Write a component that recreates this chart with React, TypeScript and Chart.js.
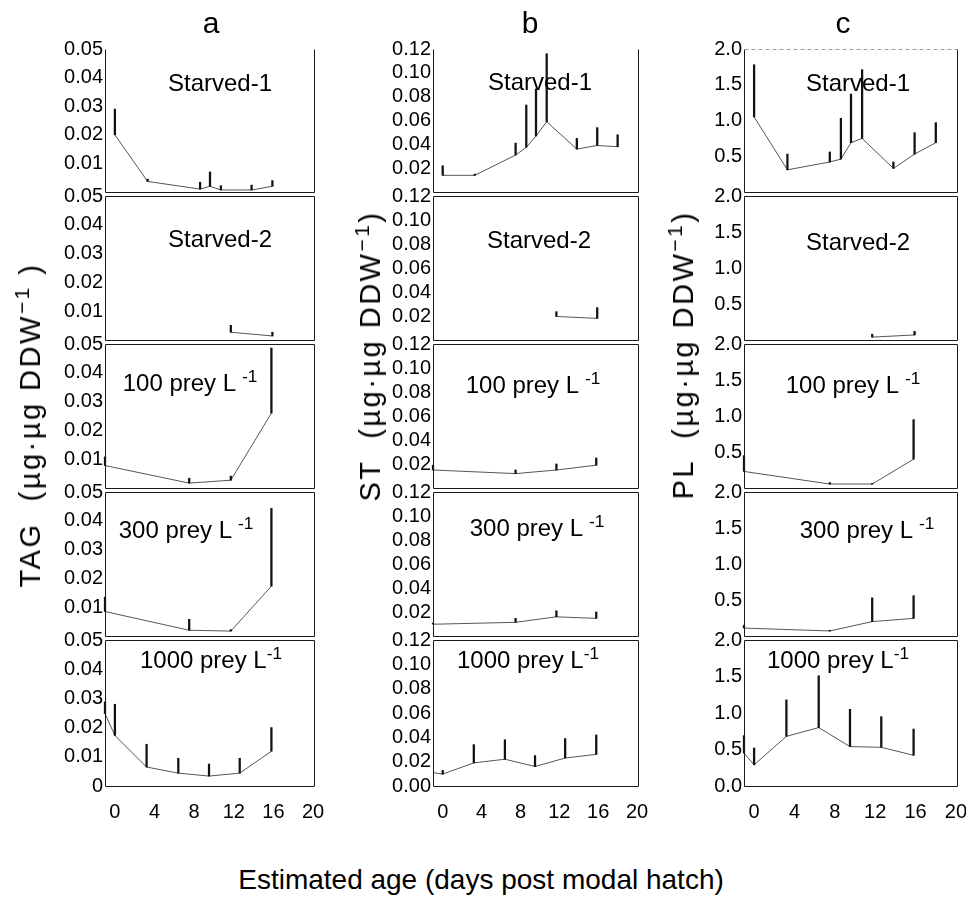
import React, { useEffect, useRef } from 'react';
import { Chart, registerables } from 'chart.js';

Chart.register(...registerables);

const FONT = 'Arial, "Liberation Sans", Helvetica, sans-serif';

// ---------------- data ----------------
const dayTicks = [0, 4, 8, 12, 16, 20];
const tagTicks = [0, 0.01, 0.02, 0.03, 0.04, 0.05];
const stTicks = [0, 0.02, 0.04, 0.06, 0.08, 0.1, 0.12];
const plTicks = [0, 0.5, 1, 1.5, 2];

const starved1Days = [0, 3.3, 7.5, 8.6, 9.6, 10.7, 13.8, 15.9, 18];
const starved2Days = [11.7, 15.9];
const prey100Days = [-1, 7.5, 11.7, 15.8];
const prey300Days = [-1, 7.5, 11.7, 15.8];
const prey1000Days = [-1, 0, 3.2, 6.4, 9.5, 12.6, 15.8];

// TAG (column a)
const tagStarved1 = [0.02, 0.0037, null, 0.001, 0.002, 0.0007, 0.0007, 0.002, null];
const tagStarved1Err = [0.009, 0.0008, null, 0.0024, 0.005, 0.0015, 0.0017, 0.002, null];
const tagStarved2 = [0.0027, 0.0014];
const tagStarved2Err = [0.0024, 0.0013];
const tag100 = [0.0078, 0.0017, 0.0027, 0.026];
const tag100Err = [0.003, 0.0017, 0.0014, 0.0226];
const tag300 = [0.0085, 0.002, 0.0017, 0.0173];
const tag300Err = [0.005, 0.0038, 0.0005, 0.027];
const tag1000 = [0.0248, 0.0173, 0.0065, 0.0044, 0.0034, 0.0044, 0.0119];
const tag1000Err = [0.004, 0.0107, 0.0078, 0.0051, 0.0041, 0.0051, 0.0081];

// ST (column b)
const stStarved1 = [0.014, 0.014, 0.031, 0.0375, 0.047, 0.059, 0.036, 0.039, 0.038];
const stStarved1Err = [0.008, 0.001, 0.01, 0.0355, 0.0395, 0.057, 0.009, 0.015, 0.01];
const stStarved2 = [0.0196, 0.018];
const stStarved2Err = [0.004, 0.009];
const st100 = [0.015, 0.012, 0.015, 0.019];
const st100Err = [0.004, 0.003, 0.005, 0.006];
const st300 = [0.0098, 0.0114, 0.016, 0.0147];
const st300Err = [0.001, 0.0033, 0.005, 0.0053];
const st1000 = [0.011, 0.0098, 0.019, 0.022, 0.016, 0.023, 0.026];
const st1000Err = [0, 0.003, 0.015, 0.016, 0.009, 0.016, 0.016];

// PL (column c)
const plStarved1 = [1.05, 0.31, 0.42, 0.46, 0.69, 0.75, 0.33, 0.53, 0.69];
const plStarved1Err = [0.73, 0.22, 0.14, 0.57, 0.68, 0.96, 0.09, 0.3, 0.28];
const plStarved2 = [0.04, 0.07];
const plStarved2Err = [0.04, 0.05];
const pl100 = [0.23, 0.055, 0.055, 0.4];
const pl100Err = [0.22, 0.02, 0.01, 0.55];
const pl300 = [0.11, 0.07, 0.2, 0.245];
const pl300Err = [0.04, 0.01, 0.33, 0.315];
const pl1000 = [0.45, 0.29, 0.68, 0.8, 0.54, 0.53, 0.42];
const pl1000Err = [0.24, 0.23, 0.5, 0.71, 0.51, 0.42, 0.36];

const columnLetters = ['a', 'b', 'c'];
const yTitleNames = ['TAG', 'ST', 'PL'];
const treatmentNames = ['Starved-1', 'Starved-2', '100 prey L ', '300 prey L ', '1000 prey L'];
const treatmentSup = ['', '', '-1', '-1', '-1'];
const xTitle = 'Estimated age (days post modal hatch)';

// ---------------- layout ----------------
const PLOT_LEFT = [105, 433, 744];
const PLOT_RIGHT = [315, 639, 958];
const ROW_EDGES = [47, 194, 342, 490, 638, 786];
const X_MIN = -1;
const X_MAX = 20.2;
const AXW = 60;
const PADT = 12;
const PADR = 24;
const PADB = 12;
const XAH = 44;

const LABEL_POS = [
  [[220, 83], [220, 239], [190, 383], [186, 530], [211, 660]],
  [[540, 82], [539, 240], [533, 385], [537, 528], [528, 660]],
  [[858, 83], [858, 242], [853, 385], [867, 530], [838, 660]],
];
const HEADER_POS = [[211, 23], [530, 23], [843, 23]];
const YTITLE_POS = [[30, 425], [370, 356], [683, 355]];

const columns = [
  {
    yMax: 0.05, ticks: tagTicks,
    fmt: (v: number, bottom: boolean) => (v === 0 ? (bottom ? '0' : '') : v.toFixed(2)),
    series: [
      [starved1Days, tagStarved1, tagStarved1Err],
      [starved2Days, tagStarved2, tagStarved2Err],
      [prey100Days, tag100, tag100Err],
      [prey300Days, tag300, tag300Err],
      [prey1000Days, tag1000, tag1000Err],
    ],
  },
  {
    yMax: 0.12, ticks: stTicks,
    fmt: (v: number, bottom: boolean) => (v === 0 ? (bottom ? '0.00' : '') : v.toFixed(2)),
    series: [
      [starved1Days, stStarved1, stStarved1Err],
      [starved2Days, stStarved2, stStarved2Err],
      [prey100Days, st100, st100Err],
      [prey300Days, st300, st300Err],
      [prey1000Days, st1000, st1000Err],
    ],
  },
  {
    yMax: 2.0, ticks: plTicks,
    fmt: (v: number, bottom: boolean) => (v === 0 ? (bottom ? '0.0' : '') : v.toFixed(1)),
    series: [
      [starved1Days, plStarved1, plStarved1Err],
      [starved2Days, plStarved2, plStarved2Err],
      [prey100Days, pl100, pl100Err],
      [prey300Days, pl300, pl300Err],
      [prey1000Days, pl1000, pl1000Err],
    ],
  },
];

const framePlugin = {
  id: 'frame',
  afterDraw(chart: any, _args: any, opts: any) {
    const { left, top, right, bottom } = chart.chartArea;
    const ctx = chart.ctx;
    ctx.save();
    ctx.strokeStyle = '#1a1a1a';
    ctx.lineWidth = 1;
    const l = Math.round(left) + 0.5;
    const r = Math.round(right) - 0.5;
    const t = Math.round(top) + 0.5;
    const b = Math.round(bottom) + 0.5;
    ctx.beginPath();
    ctx.moveTo(l, t);
    ctx.lineTo(l, b);
    ctx.lineTo(r, b);
    ctx.lineTo(r, t);
    if (opts && opts.top) ctx.lineTo(l, t);
    ctx.stroke();
    if (opts && opts.lightTop) {
      ctx.strokeStyle = '#9a9a9a';
      ctx.setLineDash([4, 3]);
      ctx.beginPath();
      ctx.moveTo(l, t);
      ctx.lineTo(r, t);
      ctx.stroke();
    }
    ctx.restore();
  },
};

function Panel({ col, row }: { col: number; row: number }) {
  const ref = useRef<HTMLCanvasElement | null>(null);
  const bottomRow = row === 4;
  const left = PLOT_LEFT[col] - AXW;
  const top = ROW_EDGES[row] - PADT;
  const w = PLOT_RIGHT[col] - PLOT_LEFT[col] + AXW + PADR;
  const h = ROW_EDGES[row + 1] - ROW_EDGES[row] + PADT + (bottomRow ? XAH : PADB);

  useEffect(() => {
    const c = columns[col];
    const [days, values, errors] = c.series[row] as [number[], (number | null)[], (number | null)[]];
    const lineData = days.map((d, i) => ({ x: d, y: values[i] }));
    const barData = days
      .map((d, i) => {
        const v = values[i];
        const e = errors[i];
        if (v == null || e == null || e === 0) return null;
        return { x: d, y: [v, v + e] };
      })
      .filter((p) => p !== null);

    const chart = new Chart(ref.current as HTMLCanvasElement, {
      type: 'line',
      data: {
        datasets: [
          {
            type: 'line',
            data: lineData as any,
            borderColor: '#555',
            borderWidth: 1,
            pointRadius: 0,
            spanGaps: true,
            tension: 0,
            order: 2,
          },
          {
            type: 'bar',
            data: barData as any,
            backgroundColor: '#111',
            borderWidth: 0,
            barThickness: 1.6,
            clip: 3,
            order: 1,
          } as any,
        ],
      },
      options: {
        responsive: false,
        animation: false,
        devicePixelRatio: 1,
        layout: { padding: { top: PADT, right: PADR, bottom: bottomRow ? 0 : PADB, left: 0 } },
        plugins: {
          legend: { display: false },
          tooltip: { enabled: false },
          frame: { top: row > 0, lightTop: row === 0 && col === 2 },
        } as any,
        scales: {
          x: {
            type: 'linear',
            min: X_MIN,
            max: X_MAX,
            offset: false,
            display: bottomRow,
            grid: { display: false, drawTicks: true, tickLength: 14 },
            border: { display: false },
            ticks: {
              font: { family: FONT, size: 20 },
              color: '#000',
              padding: 0,
              maxRotation: 0,
              autoSkip: false,
            },
            afterBuildTicks: (s: any) => {
              s.ticks = dayTicks.map((v) => ({ value: v }));
            },
            afterFit: (s: any) => {
              s.height = bottomRow ? XAH : 0;
            },
          },
          y: {
            type: 'linear',
            min: 0,
            max: c.yMax,
            grid: { display: false, drawTicks: false },
            border: { display: false },
            ticks: {
              font: { family: FONT, size: 20 },
              color: '#000',
              padding: 2,
              autoSkip: false,
              callback: (v: any) => c.fmt(Number(v), bottomRow),
            },
            afterBuildTicks: (s: any) => {
              s.ticks = c.ticks.map((v) => ({ value: v }));
            },
            afterFit: (s: any) => {
              s.width = AXW;
            },
          },
        } as any,
      },
      plugins: [framePlugin],
    });
    return () => chart.destroy();
  }, [col, row]);

  return (
    <canvas
      ref={ref}
      width={w}
      height={h}
      style={{ position: 'absolute', left, top, width: w, height: h }}
    />
  );
}

const supStyle: React.CSSProperties = { fontSize: '0.72em', verticalAlign: '0.55em', lineHeight: 0 };

export default function App() {
  const panelEls: React.ReactNode[] = [];
  const labelEls: React.ReactNode[] = [];
  for (let col = 0; col < 3; col++) {
    for (let row = 0; row < 5; row++) {
      panelEls.push(<Panel key={`p${col}${row}`} col={col} row={row} />);
      const [cx, cy] = LABEL_POS[col][row];
      labelEls.push(
        <div
          key={`l${col}${row}`}
          style={{
            position: 'absolute', left: cx, top: cy, transform: 'translate(-50%, -50%)',
            fontSize: 24, whiteSpace: 'pre', lineHeight: '28px',
          }}
        >
          {treatmentNames[row]}
          {treatmentSup[row] ? <span style={supStyle}>{treatmentSup[row]}</span> : null}
        </div>
      );
    }
  }
  return (
    <div
      style={{
        position: 'absolute', left: 0, top: 0, width: 966, height: 898, background: '#fff',
        fontFamily: FONT, color: '#000', overflow: 'hidden',
      }}
    >
      {panelEls}
      {labelEls}
      {columnLetters.map((t, i) => (
        <div
          key={`h${i}`}
          style={{
            position: 'absolute', left: HEADER_POS[i][0], top: HEADER_POS[i][1],
            transform: 'translate(-50%, -50%)', fontSize: 30, lineHeight: '34px',
          }}
        >
          {t}
        </div>
      ))}
      {yTitleNames.map((t, i) => (
        <div
          key={`y${i}`}
          style={{
            position: 'absolute', left: YTITLE_POS[i][0], top: YTITLE_POS[i][1],
            transform: 'translate(-50%, -50%) rotate(-90deg)', fontSize: 29, lineHeight: '32px',
            whiteSpace: 'pre', letterSpacing: 2.5,
          }}
        >
          {t + '  (µg·µg DDW'}
          <span style={supStyle}>−1</span>
          {i === 0 ? ' )' : ')'}
        </div>
      ))}
      <div
        style={{
          position: 'absolute', left: 481, top: 880, transform: 'translate(-50%, -50%)',
          fontSize: 28, lineHeight: '32px', whiteSpace: 'pre',
        }}
      >
        {xTitle}
      </div>
    </div>
  );
}
